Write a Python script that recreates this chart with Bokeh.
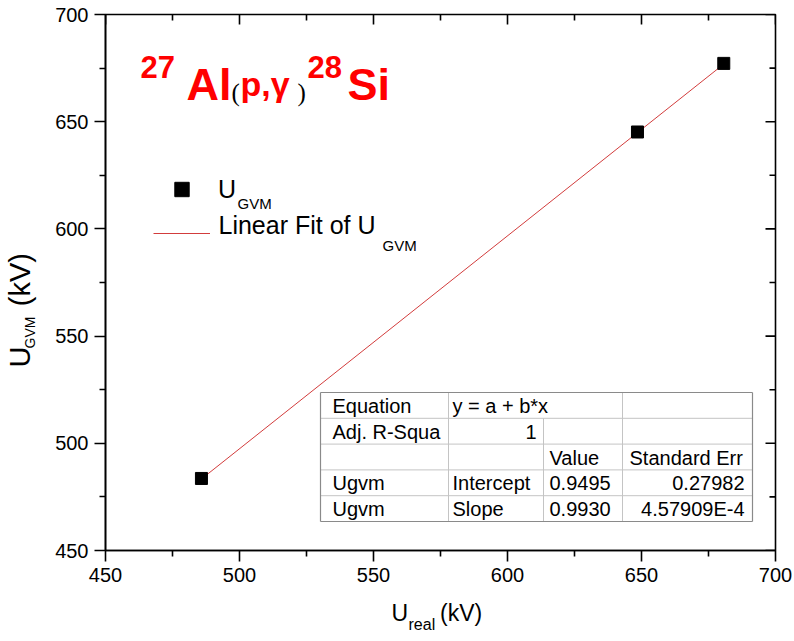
import math
from bokeh.plotting import figure
from bokeh.models import (Range1d, LinearAxis, FixedTicker, Label, Legend, LegendItem)
from bokeh.embed import file_html
from bokeh.resources import INLINE

# ---------------- data ----------------
u_real = [485.8, 648.5, 680.7]          # kV
u_gvm = [483.6, 645.2, 677.2]           # kV
fit_intercept = 0.9495
fit_slope = 0.9930
x_ticks = [450, 500, 550, 600, 650, 700]
y_ticks = [450, 500, 550, 600, 650, 700]
table_col1 = ["Equation", "Adj. R-Squa", "", "Ugvm", "Ugvm"]
table_col2 = ["y = a + b*x", "1", "", "Intercept", "Slope"]
table_col3 = ["", "", "Value", "0.9495", "0.9930"]
table_col4 = ["", "", "Standard Err", "0.27982", "4.57909E-4"]

FONT = "Liberation Sans"
NB = "\u00a0"
W, H = 794, 641
FL, FR, FT, FB = 105, 775, 14, 550
X0, X1 = x_ticks[0], x_ticks[-1]
Y0, Y1 = y_ticks[0], y_ticks[-1]
XS = (X1 - X0) / (FR - FL)   # data units per pixel
YS = (Y1 - Y0) / (FB - FT)


def dx(px):
    return X0 + (px - FL) * XS


def dy(py):
    return Y1 - (py - FT) * YS


p = figure(width=W, height=H, output_backend="svg", toolbar_location=None,
           x_range=Range1d(X0, X1), y_range=Range1d(Y0, Y1),
           min_border_left=FL, min_border_right=W - FR,
           min_border_top=FT, min_border_bottom=H - FB,
           x_axis_type=None, y_axis_type=None)
p.outline_line_color = "black"
p.outline_line_width = 1.6
p.background_fill_color = "white"
p.border_fill_color = "white"

minor_x = [(a + b) / 2 for a, b in zip(x_ticks[:-1], x_ticks[1:])]
minor_y = [(a + b) / 2 for a, b in zip(y_ticks[:-1], y_ticks[1:])]


def make_axis(ticks, minors):
    ax = LinearAxis(ticker=FixedTicker(ticks=ticks, minor_ticks=minors))
    ax.axis_line_width = 1.6
    ax.axis_line_color = "black"
    ax.major_tick_line_width = 1.6
    ax.minor_tick_line_width = 1.6
    ax.major_tick_out, ax.major_tick_in = 11, 0
    ax.minor_tick_out, ax.minor_tick_in = 6, 0
    ax.major_label_text_font = FONT
    ax.major_label_text_font_size = "20px"
    ax.major_label_text_color = "black"
    ax.major_label_standoff = 6
    return ax


p.add_layout(make_axis(x_ticks, minor_x), "below")
p.add_layout(make_axis(y_ticks, minor_y), "left")

# inward mirror ticks on the top and right frame edges
tx = x_ticks + minor_x
tl_x = [10] * len(x_ticks) + [6] * len(minor_x)
p.segment(tx, [Y1] * len(tx), tx, [Y1 - L * YS for L in tl_x],
          line_color="black", line_width=1.6)
ty = y_ticks + minor_y
tl_y = [10] * len(y_ticks) + [6] * len(minor_y)
p.segment([X1] * len(ty), ty, [X1 - L * XS for L in tl_y], ty,
          line_color="black", line_width=1.6)

# ---------------- data marks ----------------
fx = [min(u_real), max(u_real)]
fy = [fit_intercept + fit_slope * v for v in fx]
ln = p.line(fx, fy, line_color="#d23c3c", line_width=1)
sc = p.scatter(u_real, u_gvm, marker="square", size=12,
               fill_color="black", line_color="black")

# ---------------- legend ----------------
common = dict(glyph_width=57, glyph_height=36, label_standoff=8, padding=0,
              margin=0, spacing=0, border_line_alpha=0,
              background_fill_alpha=0, label_text_font=FONT,
              label_text_font_size="25px", label_text_color="black",
              label_text_baseline="middle")
leg1 = Legend(items=[LegendItem(label="U", renderers=[sc])],
              location=(153 - FL, FB - 207), **common)
leg2 = Legend(items=[LegendItem(label=" ", renderers=[ln])],
              location=(153 - FL, FB - 251), **common)
p.add_layout(leg1)
p.add_layout(leg2)

K = 0.35  # baseline -> middle of the text box, in font sizes


def txt(px, py, s, size, color="black", font=FONT, style="normal",
        align="left"):
    p.add_layout(Label(x=dx(px), y=dy(py - K * size), text=s, text_font=font,
                       text_font_size=f"{size}px", text_color=color,
                       text_font_style=style, text_align=align,
                       text_baseline="middle"))


def side_label(place, x, y, s, size, angle=0.0):
    p.add_layout(Label(x=x, y=y, x_units="screen", y_units="screen",
                       text=s, text_font=FONT, text_font_size=f"{size}px",
                       text_color="black", text_align="left",
                       text_baseline="middle", angle=angle), place)


# legend texts
txt(218, 233, "Linear Fit of U", 25)
txt(237, 208, "GVM", 15)
txt(382, 250, "GVM", 15)

# ---------------- title ----------------
RED = "#ff0000"
txt(140, 77, "27", 31, RED, style="bold")
txt(186, 100, "Al", 45, RED, style="bold")
txt(231, 101, "(", 25, "black", font="Liberation Serif")
txt(240, 95, "p,γ", 34, RED, style="bold")
txt(297, 101, ")", 25, "black", font="Liberation Serif")
txt(307, 77, "28", 31, RED, style="bold")
txt(347, 100, "Si", 45, RED, style="bold")

# ---------------- axis titles (side panels, stacked outward) -----------
# bottom: axis slot ~39px, then title slot, then subscript slot
side_label("below", 391 - FL, -2, "U" + NB * 5 + "(kV)", 23)
side_label("below", 408 - FL, 3, "real", 16)
# left: axis slot ~50px, then title slot, then subscript slot
side_label("left", -0.5, FB - 367, "U" + NB * 5 + "(kV)", 29, angle=math.pi / 2)
side_label("left", 25.5, FB - 348, "GVM", 14, angle=math.pi / 2)

# ---------------- fit table ----------------
tl, tr, tt, tb = 320, 752, 392, 521
cols = [320, 448, 543, 622, 752]
nrows = len(table_col1)
rh = (tb - tt) / nrows
rows = [tt + i * rh for i in range(nrows + 1)]

x0s, y0s, x1s, y1s = [], [], [], []
for r in rows[1:-1]:
    x0s.append(dx(tl)); x1s.append(dx(tr)); y0s.append(dy(r)); y1s.append(dy(r))
for c, start in [(cols[1], tt), (cols[2], rows[1]), (cols[3], tt)]:
    x0s.append(dx(c)); x1s.append(dx(c)); y0s.append(dy(start)); y1s.append(dy(tb))
p.segment(x0s, y0s, x1s, y1s, line_color="#c4c4c4", line_width=1)
p.segment([dx(tl), dx(tl), dx(tr), dx(tl)], [dy(tt), dy(tb), dy(tt), dy(tt)],
          [dx(tr), dx(tr), dx(tr), dx(tl)], [dy(tt), dy(tb), dy(tb), dy(tb)],
          line_color="#8a8a8a", line_width=1.2)

for i in range(nrows):
    base = rows[i] + 20.5
    if table_col1[i]:
        txt(332, base, table_col1[i], 20)
    if table_col2[i]:
        if table_col2[i] == "1":
            txt(536, base, table_col2[i], 20, align="right")
        else:
            txt(452, base, table_col2[i], 20)
    if table_col3[i]:
        txt(549, base, table_col3[i], 20)
    if table_col4[i]:
        if i == 2:
            txt(629, base, table_col4[i], 20)
        else:
            txt(744, base, table_col4[i], 20, align="right")

open("out.html", "w").write(file_html(p, INLINE))
